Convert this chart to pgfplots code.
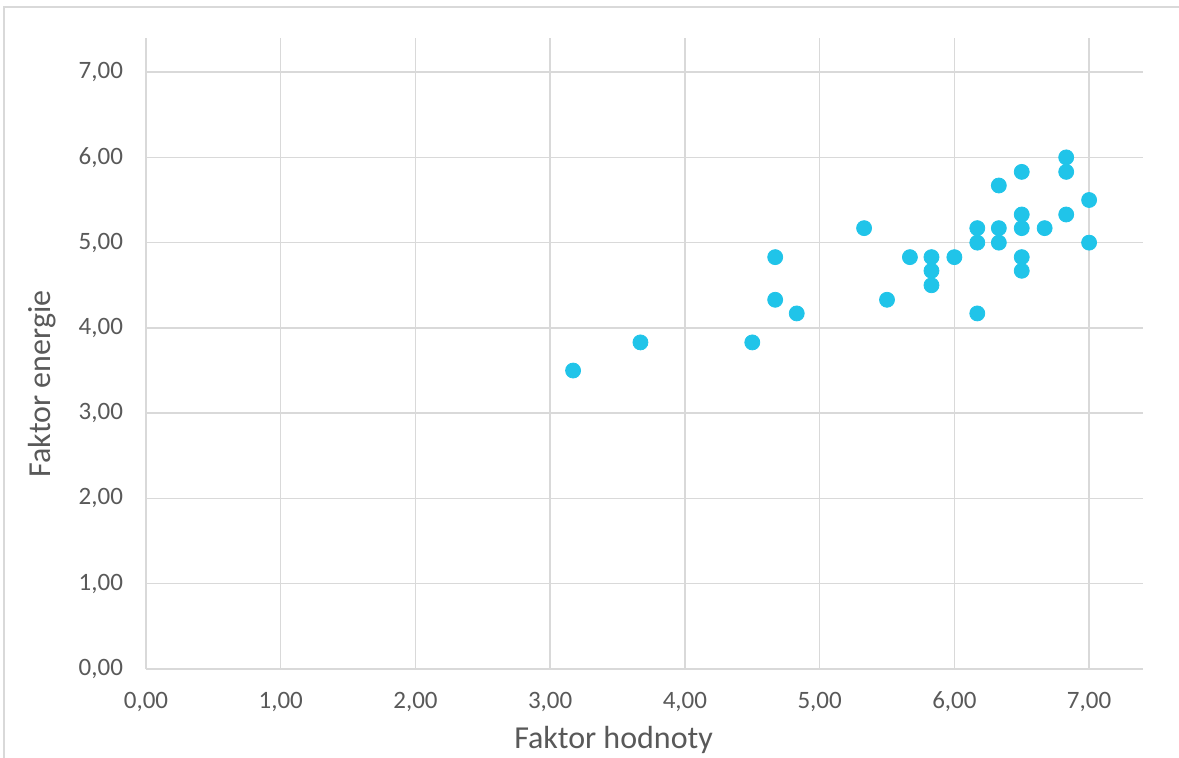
\documentclass[border=0pt]{standalone}
\usepackage{fontspec}
\setmainfont{Carlito}
\usepackage{pgfplots}
\pgfplotsset{compat=1.18}
\definecolor{gridc}{RGB}{217,217,217}
\definecolor{txtc}{RGB}{89,89,89}
\definecolor{ptc}{RGB}{32,196,233}
\begin{document}
\begin{tikzpicture}
\path[use as bounding box] (-73pt,-44.5pt) rectangle (516.5pt,334.5pt);
\draw[gridc, line width=0.8pt] (-71pt,-44.5pt) -- (-71pt,331pt) -- (516.5pt,331pt);
\begin{axis}[
  at={(0pt,0pt)}, anchor=south west,
  scale only axis, width=498.5pt, height=315.5pt,
  xmin=0, xmax=7.4, ymin=0, ymax=7.4,
  xtick={0,1,...,7}, ytick={0,1,...,7},
  grid=major,
  major grid style={gridc, line width=0.75pt},
  axis line style={gridc, line width=0.75pt},
  axis x line*=bottom, axis y line*=left,
  y axis line style={draw=none},
  major tick length=0pt,
  tick label style={font=\fontsize{12.5}{14}\selectfont, text=txtc},
  /pgf/number format/.cd, fixed, fixed zerofill, precision=2, use comma, assume math mode=true,
  /pgfplots/.cd,
  xticklabel style={yshift=-8pt},
  yticklabel style={xshift=-8pt},
  xlabel={Faktor hodnoty}, ylabel={Faktor energie},
  label style={font=\fontsize{16}{19}\selectfont, text=txtc},
  xlabel style={at={(axis description cs:0.469,-0.1125)}, anchor=center},
  ylabel style={at={(axis description cs:-0.1043,0.4517)}, anchor=center},
  clip=false,
]
\addplot[only marks, mark=*, mark size=3.75pt, mark options={fill=ptc, draw=ptc}] coordinates {
(3.17,3.50) (3.67,3.83) (4.50,3.83) (4.67,4.83) (4.67,4.33) (4.83,4.17)
(5.33,5.17) (5.50,4.33) (5.67,4.83) (5.83,4.83) (5.83,4.67) (5.83,4.50)
(6.00,4.83) (6.17,5.17) (6.17,5.00) (6.17,4.17) (6.33,5.67) (6.33,5.17)
(6.33,5.00) (6.50,5.83) (6.50,5.33) (6.50,5.17) (6.50,4.83) (6.50,4.67)
(6.67,5.17) (6.83,6.00) (6.83,5.83) (6.83,5.33) (7.00,5.50) (7.00,5.00)
};
\end{axis}
\end{tikzpicture}
\end{document}
